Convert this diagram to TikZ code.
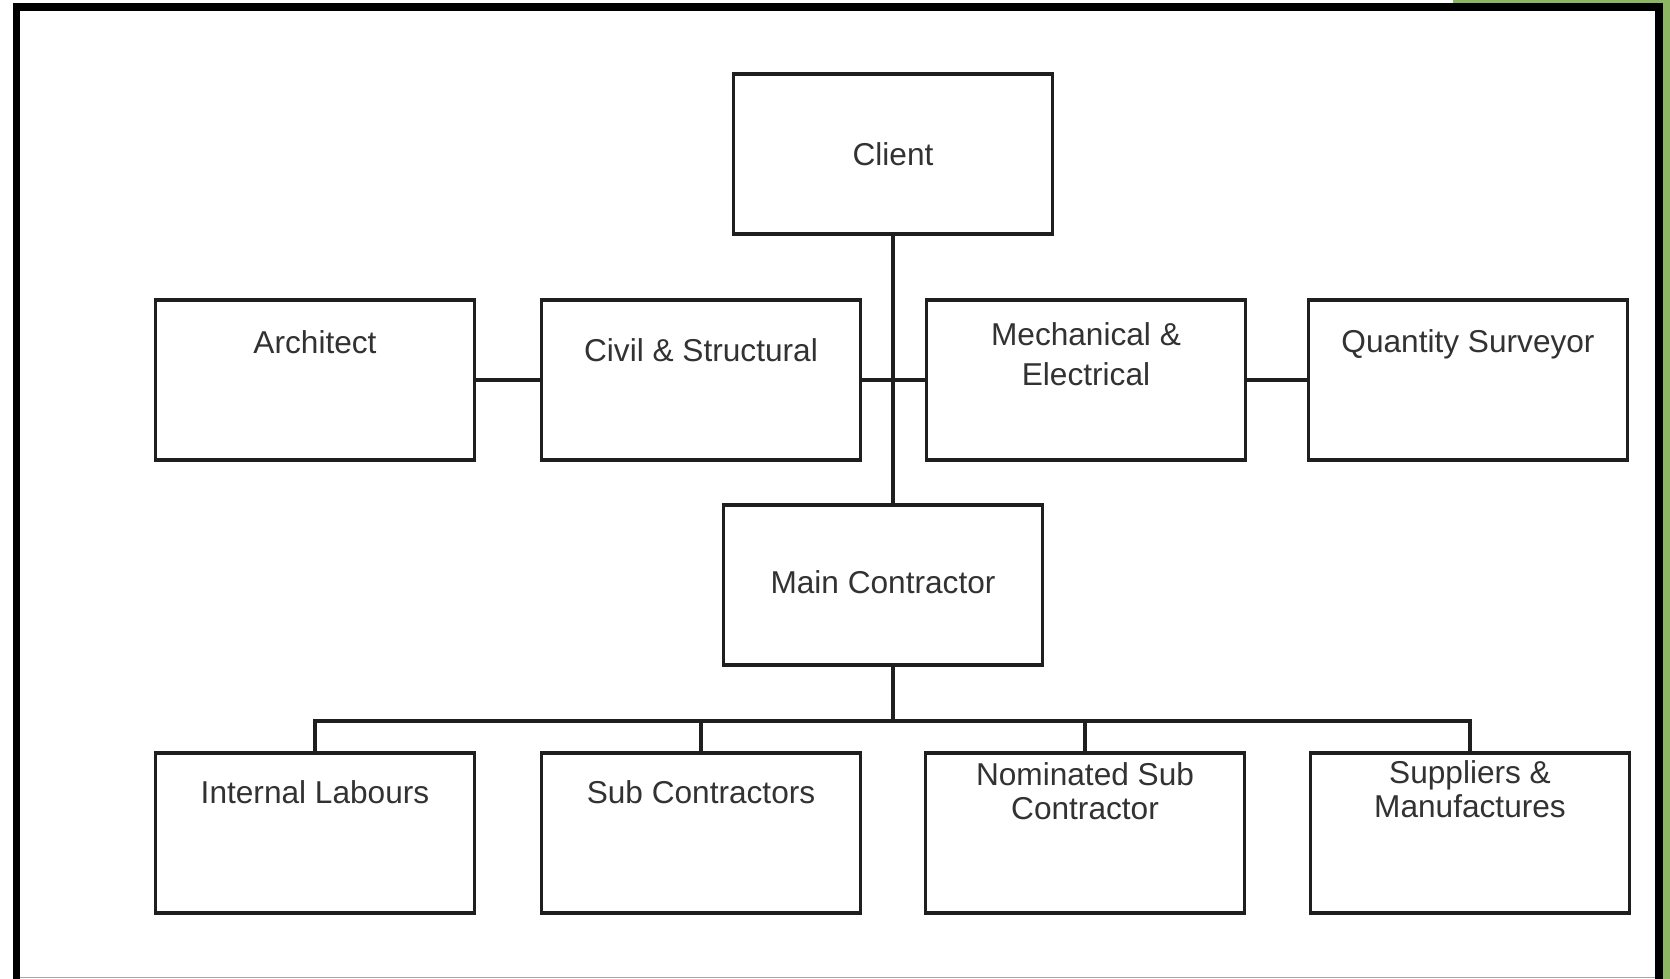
\documentclass[tikz,border=0pt]{standalone}
\usepackage{fontspec}
\setmainfont{Liberation Sans}
\usepackage{tikz}
\usetikzlibrary{positioning}
\definecolor{framegreen}{RGB}{141,182,99}
\definecolor{txtgray}{RGB}{50,50,50}
\tikzset{
  box/.style={draw=black!88, line width=2.2pt, minimum width=6.38cm, minimum height=3.2cm, inner sep=0pt, text=txtgray, font=\fontsize{18}{21}\selectfont, align=center},
  intext/.style={text=txtgray, font=\fontsize{18}{20.5}\selectfont, align=center, inner sep=0pt},
  link/.style={draw=black!88, line width=2pt}
}
\begin{document}
\begin{tikzpicture}[x=0.02cm, y=-0.02cm]
\useasboundingbox (0,0) rectangle (1670,979);
\fill[white] (0,0) rectangle (1670,979);
\fill[framegreen] (1453,0) rectangle (1670,3);
\fill[framegreen] (1663,0) rectangle (1670,979);
\fill[black] (13,3) rectangle (20,979);
\fill[black] (13,3) rectangle (1663,11);
\fill[black] (1655,3) rectangle (1663,979);
\draw[black!35, line width=0.6pt] (20,977.5) -- (1655,977.5);

\node[box] (client) at (893,154) {Client};
\node[box, label={[intext, yshift=0.76cm]center:Architect}] (arch) at (315,380) {};
\node[box, label={[intext, yshift=0.60cm]center:Civil \& Structural}] (civil) at (701,380) {};
\node[box, label={[intext, yshift=0.52cm, font=\fontsize{18}{22.5}\selectfont]center:Mechanical \&\\Electrical}] (mech) at (1086,380) {};
\node[box, label={[intext, yshift=0.71cm]center:Quantity Surveyor}] (qs) at (1468,380) {};
\node[box] (main) at (883,585) {\raisebox{0.1cm}{Main Contractor}};
\node[box, label={[intext, yshift=0.82cm]center:Internal Labours}] (intl) at (315,833) {};
\node[box, label={[intext, yshift=0.82cm]center:Sub Contractors}] (sub) at (701,833) {};
\node[box, label={[intext, yshift=0.84cm, font=\fontsize{18}{19.5}\selectfont]center:Nominated Sub\\Contractor}] (nom) at (1085,833) {};
\node[box, label={[intext, yshift=0.88cm, font=\fontsize{18}{19.5}\selectfont]center:Suppliers \&\\Manufactures}] (supp) at (1470,833) {};
\coordinate (hub) at (893,721);

\draw[link] (client.south) -- (client.south |- main.north);
\draw[link] (arch.east) -- (civil.west) (civil.east) -- (mech.west) (mech.east) -- (qs.west);
\draw[link] (client.south |- main.south) -- (hub);
\draw[link] (intl.north) |- (hub) -| (supp.north);
\draw[link] (sub.north) |- (hub) (nom.north) |- (hub);
\end{tikzpicture}
\end{document}
